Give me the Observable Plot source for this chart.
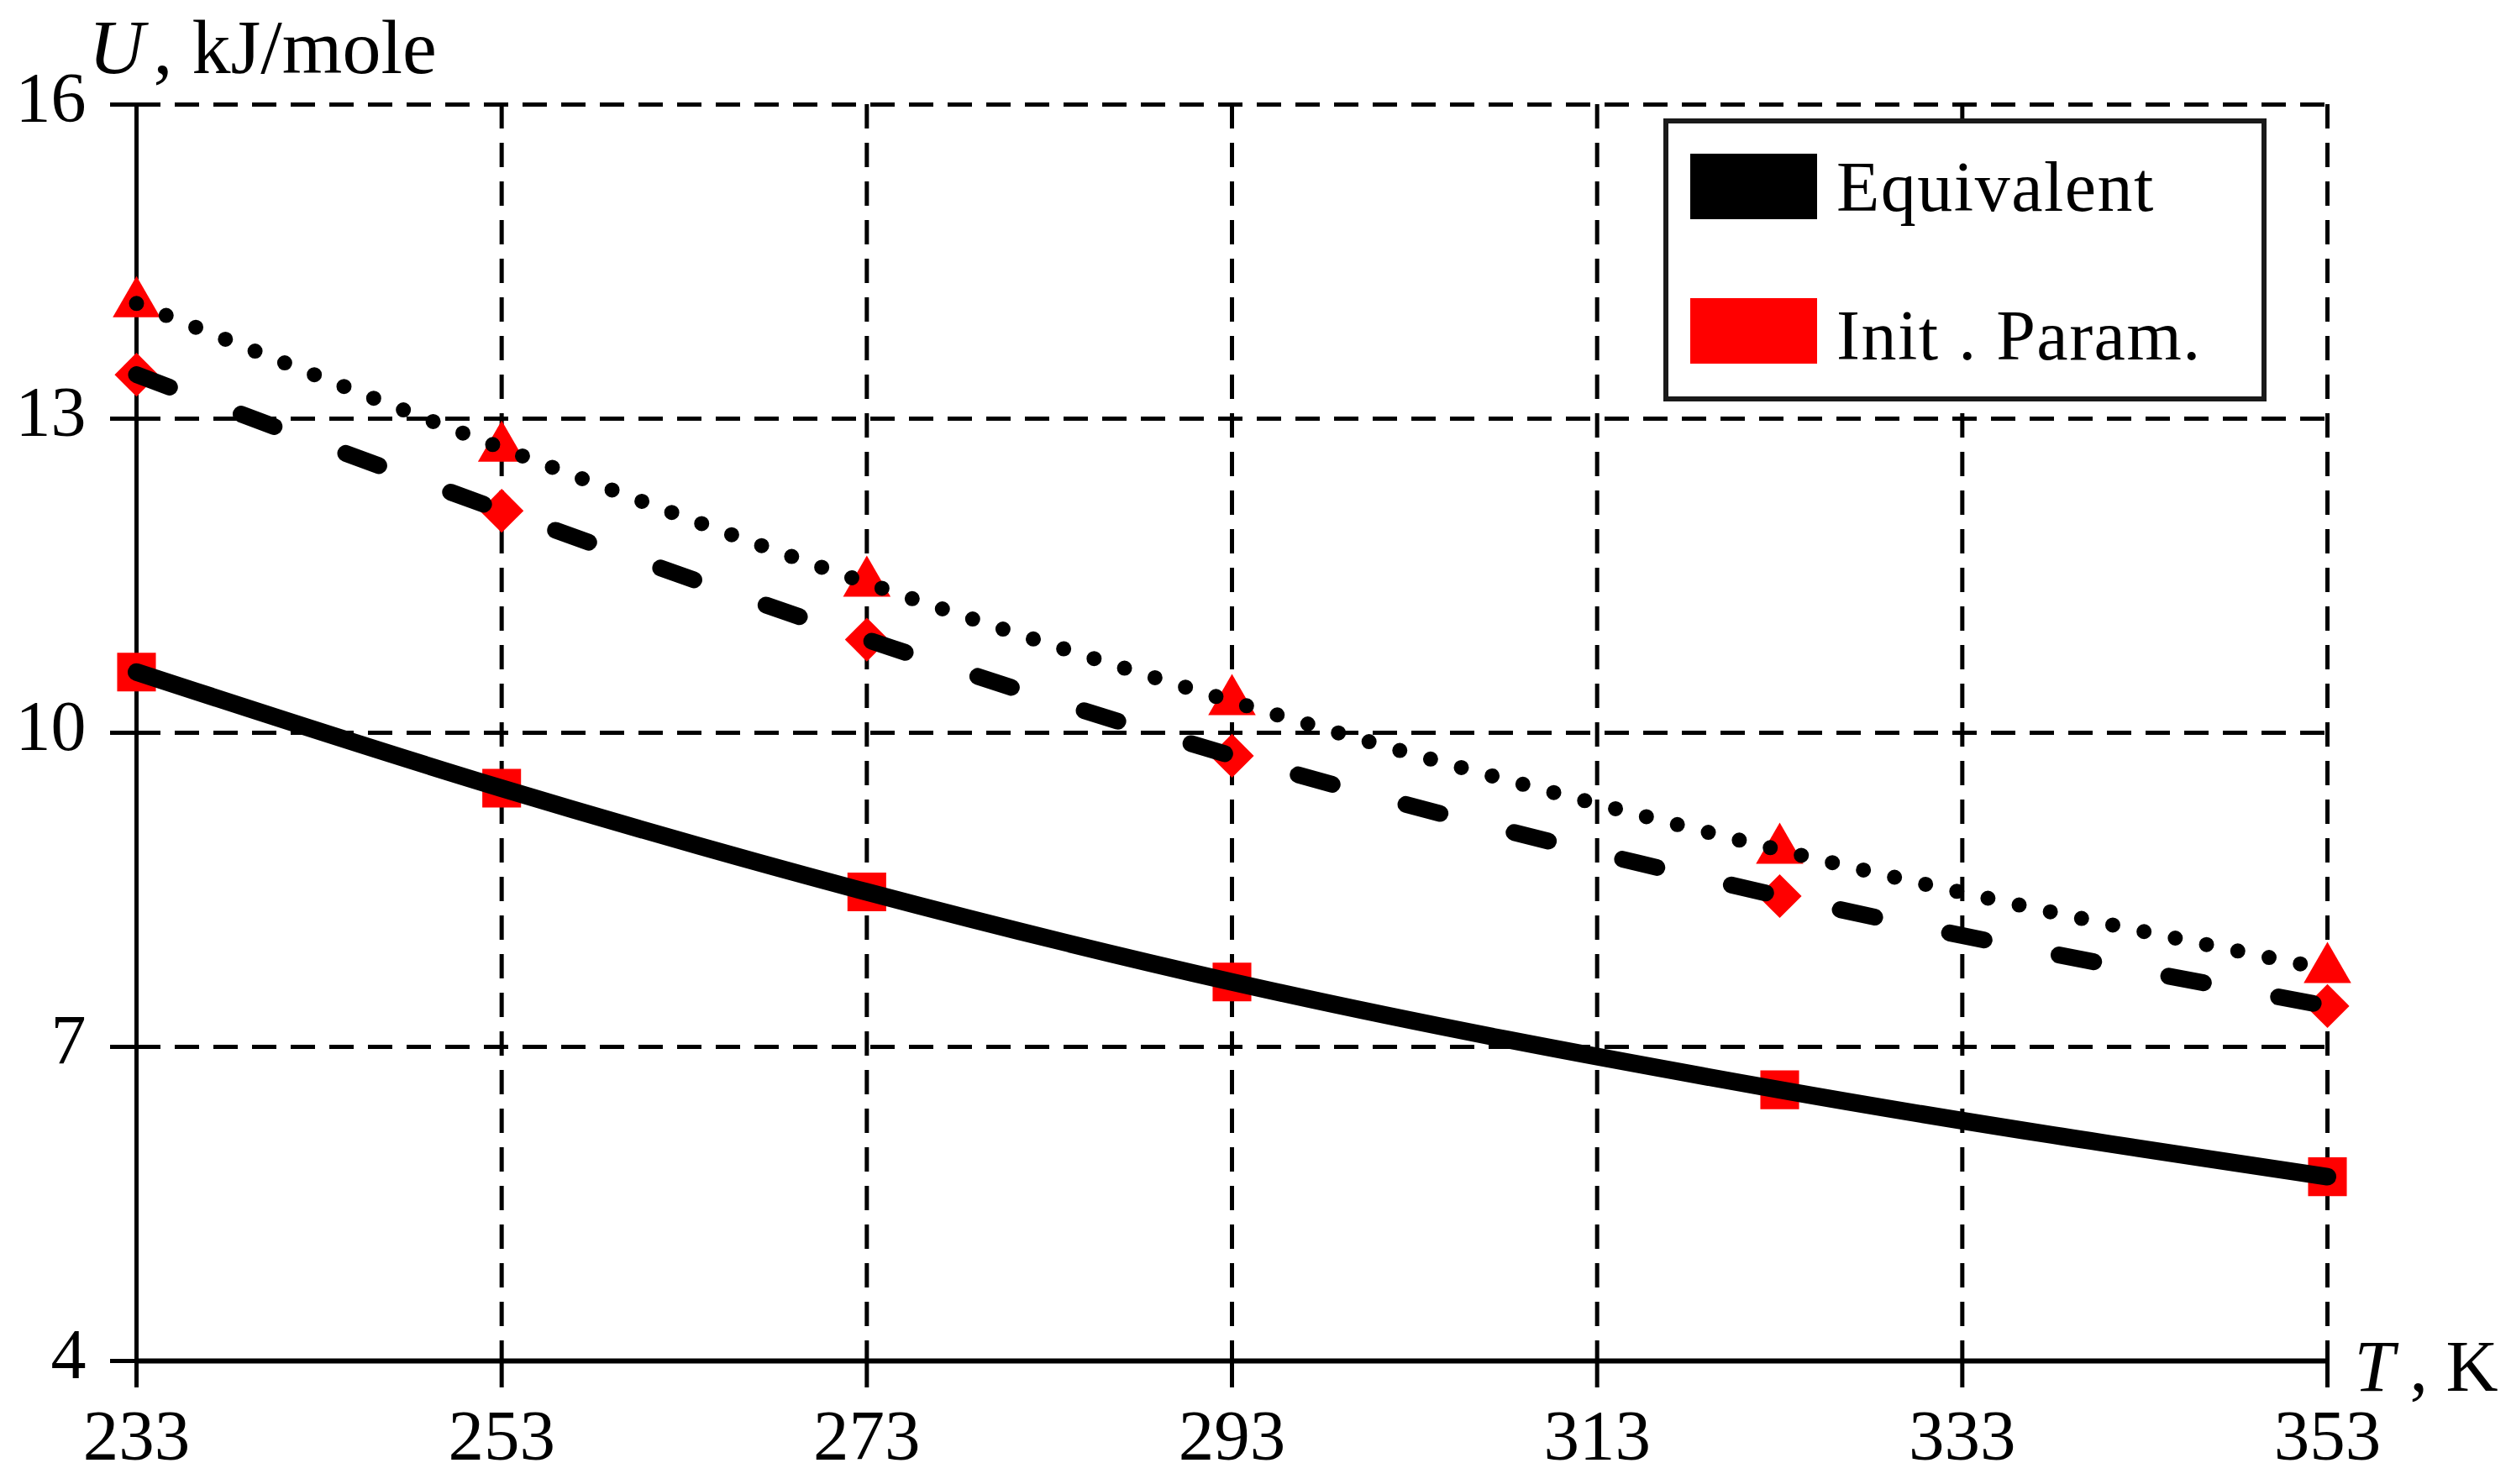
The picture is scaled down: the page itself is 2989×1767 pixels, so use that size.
<!DOCTYPE html>
<html>
<head>
<meta charset="utf-8">
<script src="https://cdn.jsdelivr.net/npm/d3@7"></script>
<script src="https://cdn.jsdelivr.net/npm/@observablehq/plot@0.6"></script>
<style>
  html, body { margin: 0; padding: 0; background: white; }
  #chart { position: relative; width: 2989px; height: 1767px; }
</style>
</head>
<body>
<div id="chart"></div>
<script>
// ---- data ----
const temps = [233, 253, 273, 293, 323, 353];                 // T, K
const equivalent = [10.58, 9.47, 8.48, 7.62, 6.59, 5.76];      // solid line, squares
const dashedSeries = [13.42, 12.12, 10.89, 9.78, 8.44, 7.39];  // dashed line, diamonds
const dottedSeries = [14.10, 12.72, 11.43, 10.30, 8.88, 7.74]; // dotted line, triangles

const xTicks = [233, 253, 273, 293, 313, 333, 353];
const yTicks = [4, 7, 10, 13, 16];
const xGrid = [253, 273, 293, 313, 333, 353];
const yGrid = [7, 10, 13, 16];

const yLabelParts = ["U", ", kJ/mole"];
const xLabelParts = ["T", ", K"];

const legendItems = ["Equivalent", "Init . Param."];
const legendColors = ["black", "red"];

const toRows = (vals) => temps.map((t, i) => ({T: t, U: vals[i]}));
const solidRows = toRows(equivalent);
const dashedRows = toRows(dashedSeries);
const dottedRows = toRows(dottedSeries);

const font = "'Liberation Serif', 'Times New Roman', serif";
const gridDash = "29,17";

const chart = Plot.plot({
  width: 2989,
  height: 1767,
  marginLeft: 162,
  marginRight: 219,
  marginTop: 124,
  marginBottom: 147,
  style: {fontFamily: font, fontSize: "84px", background: "white", color: "black", overflow: "visible"},
  x: {domain: [233, 353]},
  y: {domain: [4, 16]},
  marks: [
    Plot.ruleY(yGrid, {stroke: "black", strokeWidth: 5, strokeDasharray: gridDash}),
    Plot.ruleX(xGrid, {stroke: "black", strokeWidth: 5, strokeDasharray: gridDash}),
    Plot.ruleX([233], {stroke: "black", strokeWidth: 5}),
    Plot.ruleY([4], {stroke: "black", strokeWidth: 6}),
    // tick marks only
    Plot.axisX({ticks: xTicks, tickSize: 32, strokeWidth: 5, label: null, fill: "none", tickFormat: () => ""}),
    Plot.axisY({ticks: yTicks, tickSize: 31, strokeWidth: 5, label: null, fill: "none", tickFormat: () => ""}),
    // tick labels (baseline-anchored)
    Plot.text(xTicks, {x: d => d, text: d => String(d), frameAnchor: "bottom", dy: 117,
              lineAnchor: "bottom", textAnchor: "middle", fontSize: 85, fill: "black"}),
    Plot.text(yTicks, {y: d => d, text: d => String(d), frameAnchor: "left", dx: -60, dy: 20,
              lineAnchor: "bottom", textAnchor: "end", fontSize: 84, fill: "black"}),
    // markers (drawn under the lines)
    Plot.dot(solidRows, {x: "T", y: "U", symbol: "square", r: 26, fill: "red", stroke: "none"}),
    Plot.dot(dashedRows, {x: "T", y: "U", symbol: "diamond2", r: 23.5, fill: "red", stroke: "none"}),
    Plot.dot(dottedRows, {x: "T", y: "U", symbol: "triangle", r: 21, fill: "red", stroke: "none"}),
    // lines
    Plot.line(solidRows, {x: "T", y: "U", curve: "monotone-x", stroke: "black", strokeWidth: 21}),
    Plot.line(dashedRows, {x: "T", y: "U", curve: "monotone-x", stroke: "black", strokeWidth: 20,
                           strokeDasharray: "42,91", strokeLinecap: "round"}),
    Plot.line(dottedRows, {x: "T", y: "U", curve: "monotone-x", stroke: "black", strokeWidth: 18,
                           strokeDasharray: "0,38", strokeLinecap: "round"}),
    // axis labels
    Plot.text([yLabelParts[0]], {text: d => d, frameAnchor: "top-left", dx: -57, dy: -38,
              textAnchor: "start", lineAnchor: "bottom", fontStyle: "italic", fontSize: 92, fill: "black"}),
    Plot.text([yLabelParts[1]], {text: d => d, frameAnchor: "top-left", dx: 20, dy: -38,
              textAnchor: "start", lineAnchor: "bottom", fontSize: 92, fill: "black"}),
    Plot.text([xLabelParts[0]], {text: d => d, frameAnchor: "bottom-right", dx: 32, dy: 35,
              textAnchor: "start", lineAnchor: "bottom", fontStyle: "italic", fontSize: 86, fill: "black"}),
    Plot.text([xLabelParts[1]], {text: d => d, frameAnchor: "bottom-right", dx: 98, dy: 35,
              textAnchor: "start", lineAnchor: "bottom", fontSize: 86, fill: "black"})
  ]
});

// ---- legend box inside the plot area ----
const svg = d3.select(chart);
const lg = svg.append("g").attr("class", "legend");
lg.append("rect")
  .attr("x", 1983).attr("y", 144).attr("width", 712).attr("height", 331)
  .attr("fill", "white").attr("stroke", "#1a1a1a").attr("stroke-width", 6);
const rowTop = [183, 355];
const baselines = [251, 428];
legendItems.forEach((name, i) => {
  lg.append("rect")
    .attr("x", 2012).attr("y", rowTop[i]).attr("width", 151).attr("height", 78)
    .attr("fill", legendColors[i]);
  lg.append("text")
    .attr("x", 2186).attr("y", baselines[i])
    .attr("text-anchor", "start")
    .attr("font-family", font).attr("font-size", 84).attr("letter-spacing", 1.5)
    .attr("fill", "black")
    .text(name);
});

document.getElementById("chart").appendChild(chart);
</script>
</body>
</html>
